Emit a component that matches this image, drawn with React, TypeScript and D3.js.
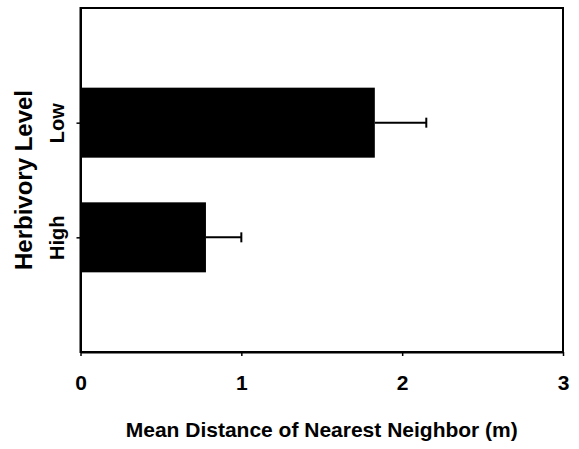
import { useEffect, useRef } from "react";
import * as d3 from "d3";

const categories = ["Low", "High"];
const means = [1.83, 0.78];
const errors = [0.32, 0.22];
const xTicks = [0, 1, 2, 3];

const xTitle = "Mean Distance of Nearest Neighbor (m)";
const yTitle = "Herbivory Level";

export default function App() {
  const ref = useRef<SVGSVGElement>(null);

  const width = 579;
  const height = 449;
  const marginTop = 8;
  const marginRight = 16;
  const marginBottom = 97;
  const marginLeft = 80.5;

  useEffect(() => {
    if (!ref.current) return;
    d3.select(ref.current).selectAll("*").remove();

    const svg = d3
      .select(ref.current)
      .attr("width", width)
      .attr("height", height)
      .attr("viewBox", [0, 0, width, height])
      .attr("style", "position:absolute;left:0;top:0;font-family:'Liberation Sans',Arial,sans-serif;");

    const x = d3
      .scaleLinear()
      .domain([0, 3])
      .range([marginLeft, width - marginRight]);

    const y = d3
      .scalePoint()
      .domain(categories)
      .range([marginTop, height - marginBottom])
      .padding(1);

    const barH = 70;

    // plot frame
    svg
      .append("rect")
      .attr("x", marginLeft)
      .attr("y", marginTop)
      .attr("width", width - marginRight - marginLeft)
      .attr("height", height - marginBottom - marginTop)
      .attr("fill", "none")
      .attr("stroke", "#000")
      .attr("stroke-width", 2);

    // bars
    svg
      .append("g")
      .selectAll("rect")
      .data(categories)
      .join("rect")
      .attr("x", x(0))
      .attr("y", (d) => (y(d) as number) - barH / 2)
      .attr("width", (_, i) => x(means[i]) - x(0))
      .attr("height", barH)
      .attr("fill", "#000");

    // error bars
    const eb = svg
      .append("g")
      .attr("stroke", "#000")
      .attr("stroke-width", 2)
      .selectAll("g")
      .data(categories)
      .join("g");
    eb.append("line")
      .attr("x1", (_, i) => x(means[i]))
      .attr("x2", (_, i) => x(means[i] + errors[i]))
      .attr("y1", (d) => y(d) as number)
      .attr("y2", (d) => y(d) as number);
    eb.append("line")
      .attr("x1", (_, i) => x(means[i] + errors[i]))
      .attr("x2", (_, i) => x(means[i] + errors[i]))
      .attr("y1", (d) => (y(d) as number) - 5)
      .attr("y2", (d) => (y(d) as number) + 5);

    // x axis
    svg
      .append("g")
      .attr("transform", `translate(0,${height - marginBottom})`)
      .call(d3.axisBottom(x).tickValues(xTicks).tickFormat(d3.format("d")).tickSize(4).tickSizeOuter(0))
      .call((g) => g.select(".domain").attr("stroke-width", 2))
      .call((g) => g.selectAll(".tick line").attr("stroke-width", 1.5))
      .call((g) =>
        g
          .selectAll(".tick text")
          .attr("font-size", 21)
          .attr("font-weight", "bold")
          .attr("font-family", "'Liberation Sans',Arial,sans-serif")
          .attr("dy", null)
          .attr("y", 38)
      );

    // y axis
    svg
      .append("g")
      .attr("transform", `translate(${marginLeft},0)`)
      .call(d3.axisLeft(y).tickSize(4).tickSizeOuter(0))
      .call((g) => g.select(".domain").attr("stroke-width", 2))
      .call((g) => g.selectAll(".tick line").attr("stroke-width", 1.5))
      .call((g) =>
        g
          .selectAll(".tick text")
          .attr("font-size", 20)
          .attr("font-weight", "bold")
          .attr("font-family", "'Liberation Sans',Arial,sans-serif")
          .attr("text-anchor", "middle")
          .attr("dy", null)
          .attr("x", null)
          .attr("transform", "translate(-17,0) rotate(-90)")
      );

    // axis titles
    svg
      .append("text")
      .attr("x", (marginLeft + width - marginRight) / 2)
      .attr("y", 437)
      .attr("text-anchor", "middle")
      .attr("font-size", 21)
      .attr("font-weight", "bold")
      .text(xTitle);

    svg
      .append("text")
      .attr("transform", `translate(32,${(marginTop + height - marginBottom) / 2}) rotate(-90)`)
      .attr("text-anchor", "middle")
      .attr("font-size", 24)
      .attr("font-weight", "bold")
      .text(yTitle);
  }, []);

  return <svg ref={ref} />;
}
